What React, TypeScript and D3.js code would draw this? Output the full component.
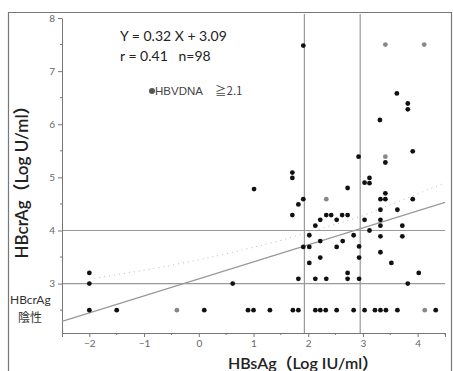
import * as d3 from "d3";
import { useEffect, useRef } from "react";

// HBsAg (Log IU/ml) vs HBcrAg (Log U/ml)
const xTicks = [-2, -1, 0, 1, 2, 3, 4];
const yTicks = [3, 4, 5, 6, 7, 8];

// black dots
const hbsAg = [
    -2, -1.5, 0.1, 0.9, 1.0, 1.3, 1.72, 1.82, 2.13, 2.22, 2.32, 2.52, 2.83, 3.03, 3.22, 3.32, 3.42, 3.63, 4.33,
    -2, -2, 0.62,
    1.01, 1.71, 1.71, 1.91, 1.82, 1.71, 1.91, 1.91, 1.82,
    2.02, 2.02, 2.02, 2.92, 2.72,
    2.33, 2.42, 2.62, 2.72, 2.22, 2.52, 2.13, 2.83,
    2.22, 2.63, 2.52, 2.93, 2.22, 2.93, 2.72,
    2.13, 2.33, 2.72, 2.93,
    3.91, 3.41, 3.03, 3.12, 3.12, 3.41,
    3.32, 3.41, 3.91, 3.32, 3.63, 3.03, 3.32, 3.32, 3.72, 3.12,
    3.32, 3.72, 3.32, 3.52, 4.02, 3.82,
    3.62, 3.82, 3.82, 3.31,
];
const hbcrAg = [
    2.5, 2.5, 2.5, 2.5, 2.5, 2.5, 2.5, 2.5, 2.5, 2.5, 2.5, 2.5, 2.5, 2.5, 2.5, 2.5, 2.5, 2.5, 2.5,
    3.2, 3.0, 3.0,
    4.78, 5.09, 4.99, 4.59, 4.49, 4.29, 7.48, 3.69, 3.09,
    3.91, 3.69, 3.39, 5.39, 4.8,
    4.29, 4.29, 4.29, 4.29, 4.2, 4.2, 4.09, 3.91,
    3.8, 3.8, 3.69, 3.7, 3.49, 3.49, 3.2,
    3.09, 3.09, 3.09, 3.09,
    5.49, 5.28, 4.9, 4.99, 4.89, 4.7,
    4.59, 4.59, 4.59, 4.39, 4.39, 4.2, 4.2, 4.09, 4.09, 4.0,
    3.89, 3.89, 3.59, 3.39, 3.2, 3.0,
    6.58, 6.39, 6.28, 6.08,
];

// gray dots (HBVDNA >= 2.1)
const grayHbsAg = [-0.4, 4.13, 2.33, 3.41, 3.41, 4.12];
const grayHbcrAg = [2.5, 2.5, 4.59, 5.39, 7.5, 7.5];

// regression Y = 0.32X + 3.09
const slope = 0.32;
const intercept = 3.09;

// upper confidence band (dotted)
const bandX = [-1.91, -0.77, 0.2, 0.75, 1.49, 2.68, 3.01, 4.46];
const bandY = [3.1, 3.29, 3.49, 3.62, 3.81, 4.17, 4.28, 4.88];

const cutX = [1.93, 2.95];
const cutY = [3, 4];

const W = 453;
const H = 371;

const App = () => {
    const svgRef = useRef(null);

    const x = d3.scaleLinear().domain([-2.5, 4.5]).range([62, 445]);
    const y = d3.scaleLinear().domain([2.07, 8]).range([333, 18]);

    useEffect(() => {
        const svg = d3.select(svgRef.current);
        svg.selectAll("*").remove();
        svg.attr("width", W).attr("height", H).attr("viewBox", [0, 0, W, H]);

        svg.append("rect").attr("width", W).attr("height", H).attr("fill", "#fff");

        // outer frame
        svg.append("path")
            .attr("d", `M8.5,${H} V12.5 H451.5 V${H}`)
            .attr("fill", "none")
            .attr("stroke", "#777")
            .attr("stroke-width", 1.2);

        // reference lines
        svg.append("g")
            .selectAll("line")
            .data(cutY)
            .join("line")
            .attr("x1", x(-2.5))
            .attr("x2", x(4.5))
            .attr("y1", d => y(d))
            .attr("y2", d => y(d))
            .attr("stroke", "#999")
            .attr("stroke-width", 1.2);
        svg.append("g")
            .selectAll("line")
            .data(cutX)
            .join("line")
            .attr("x1", d => x(d))
            .attr("x2", d => x(d))
            .attr("y1", 14)
            .attr("y2", y(2.07))
            .attr("stroke", "#999")
            .attr("stroke-width", 1.2);

        // x axis
        const xAxis = svg.append("g")
            .attr("transform", `translate(0,${y(2.07)})`)
            .call(d3.axisBottom(x).tickValues(xTicks).tickSize(4).tickPadding(3).tickFormat(d3.format("d")));
        xAxis.select(".domain").attr("stroke", "#777");
        xAxis.selectAll(".tick line").attr("stroke", "#777");
        xAxis.selectAll("text")
            .attr("fill", "#666")
            .style("font-family", "Lato, sans-serif")
            .style("font-size", "10px");
        xAxis.append("g")
            .selectAll("line")
            .data(xTicks.map(d => d + 0.5))
            .join("line")
            .attr("x1", d => x(d))
            .attr("x2", d => x(d))
            .attr("y2", 2)
            .attr("stroke", "#777");

        // y axis
        const yAxis = svg.append("g")
            .attr("transform", `translate(${x(-2.5)},0)`)
            .call(d3.axisLeft(y).tickValues(yTicks).tickSize(4).tickSizeOuter(0).tickPadding(3).tickFormat(d3.format("d")));
        yAxis.select(".domain").attr("stroke", "#777");
        yAxis.selectAll(".tick line").attr("stroke", "#777");
        yAxis.selectAll("text")
            .attr("fill", "#666")
            .style("font-family", "Lato, sans-serif")
            .style("font-size", "10px");
        yAxis.append("g")
            .selectAll("line")
            .data([2.5, 3.5, 4.5, 5.5, 6.5, 7.5])
            .join("line")
            .attr("y1", d => y(d))
            .attr("y2", d => y(d))
            .attr("x2", -2)
            .attr("stroke", "#777");

        // dotted band
        const band = d3.line<number>()
            .x((_, i) => x(bandX[i]))
            .y(d => y(d));
        svg.append("path")
            .datum(bandY)
            .attr("fill", "none")
            .attr("stroke", "#bbb")
            .attr("stroke-width", 1)
            .attr("stroke-dasharray", "1,4")
            .attr("d", band);

        // regression line
        svg.append("line")
            .attr("x1", x(-2.5))
            .attr("y1", y(slope * -2.5 + intercept))
            .attr("x2", x(4.5))
            .attr("y2", y(slope * 4.5 + intercept))
            .attr("stroke", "#999")
            .attr("stroke-width", 1.2);

        // points
        svg.append("g")
            .selectAll("circle")
            .data(hbsAg)
            .join("circle")
            .attr("cx", d => x(d))
            .attr("cy", (_, i) => y(hbcrAg[i]))
            .attr("r", 2.4)
            .attr("fill", "#111");
        svg.append("g")
            .selectAll("circle")
            .data(grayHbsAg)
            .join("circle")
            .attr("cx", d => x(d))
            .attr("cy", (_, i) => y(grayHbcrAg[i]))
            .attr("r", 2.4)
            .attr("fill", "#888");

        // texts
        const font = "Lato, 'Noto Sans CJK JP', sans-serif";
        svg.append("text")
            .attr("x", 120).attr("y", 41)
            .attr("font-family", font).attr("font-size", 14).attr("fill", "#222")
            .text("Y = 0.32 X + 3.09");
        svg.append("text")
            .attr("x", 120).attr("y", 61)
            .attr("font-family", font).attr("font-size", 14).attr("fill", "#222")
            .attr("xml:space", "preserve")
            .style("white-space", "pre")
            .text("r = 0.41   n=98");

        // legend
        svg.append("circle").attr("cx", 152).attr("cy", 91).attr("r", 3).attr("fill", "#555");
        svg.append("text")
            .attr("x", 155).attr("y", 95)
            .attr("font-family", "'Liberation Sans', sans-serif").attr("font-size", 11.5).attr("fill", "#444")
            .text("HBVDNA");
        svg.append("text")
            .attr("x", 215).attr("y", 95)
            .attr("font-family", "'Noto Sans CJK JP', sans-serif").attr("font-size", 11.5).attr("fill", "#444")
            .text("≧2.1");

        // axis titles
        svg.append("text")
            .attr("transform", `translate(28,${178}) rotate(-90)`)
            .attr("text-anchor", "middle")
            .attr("font-family", font).attr("font-size", 17).attr("font-weight", 600).attr("fill", "#222")
            .text("HBcrAg（Log U/ml）");
        svg.append("text")
            .attr("x", 303).attr("y", 369)
            .attr("text-anchor", "middle")
            .attr("font-family", font).attr("font-size", 16).attr("font-weight", 600).attr("fill", "#222")
            .text("HBsAg（Log IU/ml）");

        svg.append("text")
            .attr("x", 10).attr("y", 304)
            .attr("font-family", font).attr("font-size", 12).attr("fill", "#333")
            .text("HBcrAg");
        svg.append("text")
            .attr("x", 18).attr("y", 322)
            .attr("font-family", "'Noto Sans CJK JP', sans-serif").attr("font-size", 12).attr("fill", "#333")
            .text("陰性");
    }, []);

    return (
        <svg ref={svgRef} style={{ position: "absolute", left: 0, top: 0, display: "block" }}></svg>
    );
};

export default App;
